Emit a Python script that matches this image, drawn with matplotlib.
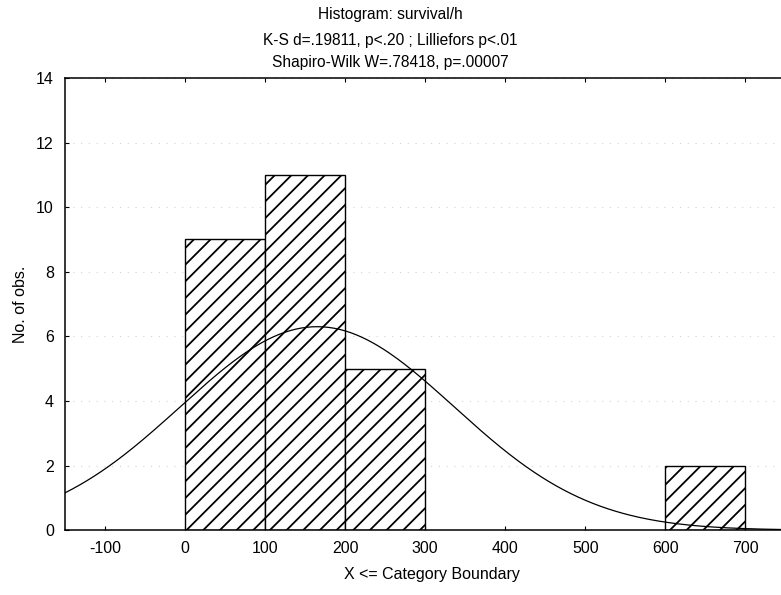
import numpy as np
import matplotlib
matplotlib.use("Agg")
import matplotlib.pyplot as plt

# histogram of survival/h (category boundaries, counts)
bin_left = [0, 100, 200, 600]
bin_width = 100
counts = [9, 11, 5, 2]

# fitted normal curve parameters
n_obs = 27
fit_mean = 165
fit_sd = 171

title_lines = [
    "Histogram: survival/h",
    "K-S d=.19811, p<.20 ; Lilliefors p<.01",
    "Shapiro-Wilk W=.78418, p=.00007",
]
x_ticks = [-100, 0, 100, 200, 300, 400, 500, 600, 700]
y_ticks = [0, 2, 4, 6, 8, 10, 12, 14]

plt.rcParams["font.family"] = ["Liberation Sans", "DejaVu Sans"]
plt.rcParams["hatch.linewidth"] = 1.3
plt.rcParams["axes.unicode_minus"] = False

fig = plt.figure(figsize=(7.81, 5.95), dpi=100)
ax = fig.add_axes([0.0832, 0.109, 0.94, 0.760])

ax.bar(bin_left, counts, width=bin_width, align="edge", color="white",
       edgecolor="black", linewidth=1.0, hatch="//", zorder=2)

xs = np.linspace(-150, 770, 400)
pdf = np.exp(-0.5 * ((xs - fit_mean) / fit_sd) ** 2) / (fit_sd * np.sqrt(2 * np.pi))
ax.plot(xs, n_obs * bin_width * pdf, color="black", linewidth=0.9, zorder=3)

ax.set_xlim(-150, 767)
ax.set_ylim(0, 14)
ax.set_xticks(x_ticks)
ax.set_yticks(y_ticks)
ax.tick_params(direction="in", top=True, right=False, length=3,
               labelsize=11.5, pad=8)
ax.yaxis.grid(True, linestyle=(0, (1, 6)), color="#d4d4d4", linewidth=0.8)
ax.set_axisbelow(True)
for s in ax.spines.values():
    s.set_linewidth(1.1)

ax.set_xlabel("X <= Category Boundary", fontsize=11.5, labelpad=8)
ax.set_ylabel("No. of obs.", fontsize=11.5, labelpad=6)

for i, (line, ypx) in enumerate(zip(title_lines, [14, 40, 63])):
    fig.text(0.50, 1 - ypx / 595, line, ha="center", va="center",
             fontsize=11.2)

fig.savefig("out.png", dpi=100)
